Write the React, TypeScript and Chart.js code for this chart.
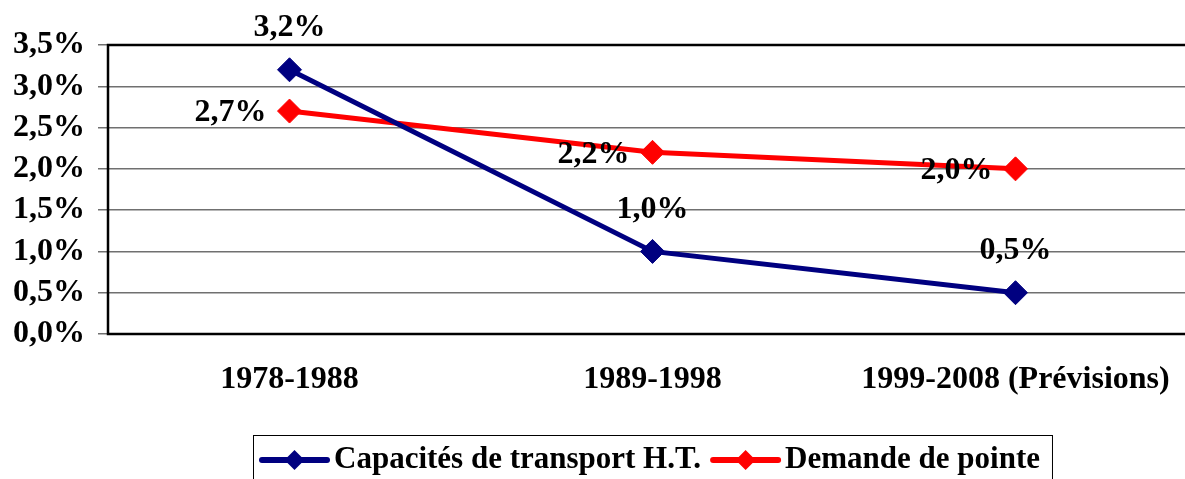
import React, { useEffect, useRef } from "react";
import { Chart, registerables } from "chart.js";

Chart.register(...registerables);

const categories = ["1978-1988", "1989-1998", "1999-2008 (Prévisions)"];
const capacitesValues = [3.2, 1.0, 0.5];
const demandeValues = [2.7, 2.2, 2.0];
const seriesNames = ["Capacités de transport H.T.", "Demande de pointe"];
const yTicks = [0, 0.5, 1.0, 1.5, 2.0, 2.5, 3.0, 3.5];

const BLUE = "#000080";
const RED = "#FF0000";
const FONT_FAMILY = "'Liberation Serif', 'Times New Roman', serif";
const fmt = (v: number) => v.toFixed(1).replace(".", ",") + "%";

const framePlugin = {
  id: "frame",
  beforeDatasetsDraw(chart: any) {
    const { ctx, chartArea } = chart;
    ctx.save();
    ctx.strokeStyle = "#000";
    ctx.lineWidth = 2.5;
    ctx.strokeRect(chartArea.left, chartArea.top, chartArea.right - chartArea.left, chartArea.bottom - chartArea.top);
    ctx.restore();
  },
};

const labelsPlugin = {
  id: "pointLabels",
  afterDatasetsDraw(chart: any) {
    const { ctx } = chart;
    ctx.save();
    ctx.font = `bold 32px ${FONT_FAMILY}`;
    ctx.fillStyle = "#000";
    chart.data.datasets.forEach((ds: any, di: number) => {
      const meta = chart.getDatasetMeta(di);
      meta.data.forEach((pt: any, i: number) => {
        const txt = fmt(ds.data[i]);
        ctx.textBaseline = "middle";
        if (di === 0) {
          ctx.textAlign = "center";
          ctx.fillText(txt, pt.x, pt.y - 42);
        } else {
          ctx.textAlign = "right";
          ctx.fillText(txt, pt.x - 23, pt.y + 2);
        }
      });
    });
    ctx.restore();
  },
};

const legendPlugin = {
  id: "customLegend",
  afterDraw(chart: any) {
    const { ctx, chartArea } = chart;
    const colors = [BLUE, RED];
    ctx.save();
    ctx.font = `bold 31px ${FONT_FAMILY}`;
    const lineLen = 65;
    const gapText = 7;
    const gapItem = 12;
    const padL = 9;
    const padR = 12;
    const widths = seriesNames.map((n) => ctx.measureText(n).width);
    const itemsW = widths.reduce((a, w) => a + lineLen + gapText + w, 0) + gapItem * (seriesNames.length - 1);
    const boxW = padL + itemsW + padR;
    const cx = (chartArea.left + chartArea.right) / 2;
    const left = Math.round(cx - boxW / 2);
    const top = 435;
    const cy = 460;
    ctx.strokeStyle = "#000";
    ctx.lineWidth = 1;
    ctx.strokeRect(left + 0.5, top + 0.5, boxW, 80);
    let x = left + padL;
    seriesNames.forEach((name, i) => {
      ctx.strokeStyle = colors[i];
      ctx.fillStyle = colors[i];
      ctx.lineWidth = 6;
      ctx.lineCap = "round";
      ctx.beginPath();
      ctx.moveTo(x, cy);
      ctx.lineTo(x + lineLen, cy);
      ctx.stroke();
      const mx = x + lineLen / 2;
      const r = 10;
      ctx.beginPath();
      ctx.moveTo(mx - r, cy);
      ctx.lineTo(mx, cy - r);
      ctx.lineTo(mx + r, cy);
      ctx.lineTo(mx, cy + r);
      ctx.closePath();
      ctx.fill();
      ctx.fillStyle = "#000";
      ctx.textAlign = "left";
      ctx.textBaseline = "middle";
      ctx.fillText(name, x + lineLen + gapText, cy);
      x += lineLen + gapText + widths[i] + gapItem;
    });
    ctx.restore();
  },
};

export default function App() {
  const canvasRef = useRef<HTMLCanvasElement | null>(null);

  useEffect(() => {
    if (!canvasRef.current) return;
    const chart = new Chart(canvasRef.current, {
      type: "line",
      data: {
        labels: categories,
        datasets: [
          {
            label: seriesNames[0],
            data: capacitesValues,
            borderColor: BLUE,
            backgroundColor: BLUE,
            borderWidth: 5,
            pointStyle: "rectRot",
            pointRadius: 12,
            pointBorderWidth: 1,
            pointBackgroundColor: BLUE,
            pointBorderColor: BLUE,
            tension: 0,
          },
          {
            label: seriesNames[1],
            data: demandeValues,
            borderColor: RED,
            backgroundColor: RED,
            borderWidth: 5,
            pointStyle: "rectRot",
            pointRadius: 12,
            pointBorderWidth: 1,
            pointBackgroundColor: RED,
            pointBorderColor: RED,
            tension: 0,
          },
        ],
      },
      options: {
        animation: false,
        responsive: false,
        maintainAspectRatio: false,
        layout: { padding: { top: 45, right: 12, bottom: 65, left: 0 } },
        plugins: {
          legend: { display: false },
          tooltip: { enabled: false },
        },
        scales: {
          x: {
            offset: true,
            grid: { display: false, drawTicks: false },
            border: { display: false },
            ticks: {
              color: "#000",
              padding: 27,
              maxRotation: 0,
              autoSkip: false,
              font: { family: FONT_FAMILY, size: 32, weight: "bold" },
            },
            afterFit(scale: any) {
              scale.height = 80;
            },
          },
          y: {
            min: 0,
            max: 3.5,
            afterBuildTicks(scale: any) {
              scale.ticks = yTicks.map((v) => ({ value: v }));
            },
            grid: { color: "#707070", lineWidth: 1.5, tickLength: 10 },
            border: { display: false },
            ticks: {
              color: "#000",
              padding: 13,
              autoSkip: false,
              font: { family: FONT_FAMILY, size: 32, weight: "bold" },
              callback: (v: any) => fmt(Number(v)),
            },
            afterFit(scale: any) {
              scale.width = 108;
            },
          },
        },
      },
      plugins: [framePlugin, labelsPlugin, legendPlugin],
    });
    return () => chart.destroy();
  }, []);

  return (
    <div style={{ position: "absolute", left: 0, top: 0, width: 1185, height: 479, overflow: "hidden", background: "#fff" }}>
      <canvas ref={canvasRef} width={1210} height={479} style={{ display: "block" }} />
    </div>
  );
}
